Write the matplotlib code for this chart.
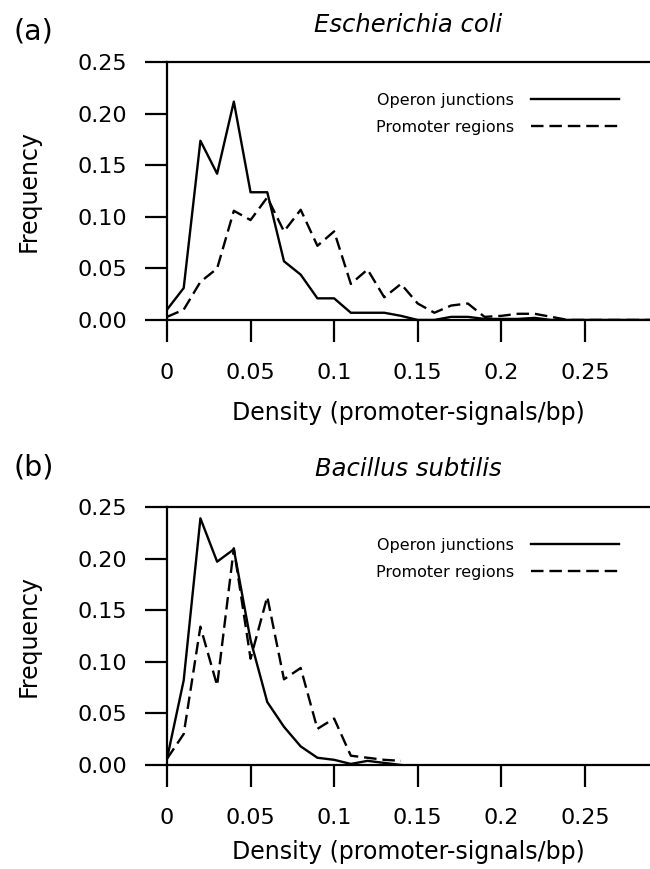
#!/usr/bin/env python3
# Promoter-signal density at operon junctions vs promoter regions
# (a) E. coli, (b) B. subtilis

import matplotlib
matplotlib.use("Agg")
import matplotlib.pyplot as plt

plt.rcParams["font.family"] = ["DejaVu Sans"]

# ============================
# Dados
# ============================
ecoli_density = [0.00, 0.01, 0.02, 0.03, 0.04, 0.05, 0.06, 0.07, 0.08, 0.09,
                 0.10, 0.11, 0.12, 0.13, 0.14, 0.15, 0.16, 0.17, 0.18, 0.19,
                 0.20, 0.21, 0.22, 0.23, 0.24, 0.25, 0.26, 0.27, 0.28, 0.29]
ecoli_operon = [0.010, 0.031, 0.174, 0.142, 0.212, 0.124, 0.124, 0.057, 0.044, 0.021,
                0.021, 0.007, 0.007, 0.007, 0.004, 0.000, 0.000, 0.003, 0.003, 0.001,
                0.001, 0.001, 0.002, 0.000, 0.000, 0.000, 0.000, 0.000, 0.000, 0.000]
ecoli_promoter = [0.003, 0.010, 0.037, 0.050, 0.106, 0.097, 0.119, 0.086, 0.107, 0.072,
                  0.086, 0.035, 0.049, 0.022, 0.035, 0.016, 0.007, 0.014, 0.016, 0.003,
                  0.004, 0.006, 0.006, 0.003, 0.000, 0.000, 0.000, 0.000, 0.000, 0.000]

bsub_density = [0.00, 0.01, 0.02, 0.03, 0.04, 0.05, 0.06, 0.07, 0.08, 0.09,
                0.10, 0.11, 0.12, 0.13, 0.14]
bsub_operon = [0.006, 0.082, 0.239, 0.197, 0.209, 0.121, 0.061, 0.037, 0.018, 0.007,
               0.005, 0.001, 0.004, 0.002, 0.000]
bsub_promoter = [0.006, 0.030, 0.134, 0.077, 0.210, 0.103, 0.163, 0.083, 0.094, 0.035,
                 0.045, 0.009, 0.007, 0.005, 0.004]

x_ticks = [0, 0.05, 0.1, 0.15, 0.2, 0.25]
x_ticklabels = ["0", "0.05", "0.1", "0.15", "0.2", "0.25"]
y_ticks = [0.0, 0.05, 0.10, 0.15, 0.20, 0.25]
y_ticklabels = ["0.00", "0.05", "0.10", "0.15", "0.20", "0.25"]

labels = ["Operon junctions", "Promoter regions"]

LW = 1.7
DASH = (5.3, 2.5)


def draw_panel(ax, x, operon, promoter, title, xlabelpad):
    ax.plot(x, operon, color="black", lw=LW, label=labels[0], zorder=3)
    ax.plot(x, promoter, color="black", lw=LW, ls=(0, DASH), label=labels[1], zorder=3)

    ax.set_xlim(0, 0.289)
    ax.set_ylim(0, 0.25)
    ax.spines["right"].set_visible(False)
    for s in ("left", "bottom", "top"):
        ax.spines[s].set_linewidth(1.6)

    ax.set_xticks(x_ticks)
    ax.set_xticklabels(x_ticklabels)
    ax.set_yticks(y_ticks)
    ax.set_yticklabels(y_ticklabels)
    ax.tick_params(direction="out", length=15.8, width=1.6, labelsize=16)
    ax.tick_params(axis="x", pad=15)
    ax.tick_params(axis="y", pad=13)

    ax.set_xlabel("Density (promoter-signals/bp)", fontsize=17, labelpad=xlabelpad)
    ax.set_ylabel("Frequency", fontsize=17, labelpad=26)
    ax.set_title(title, fontsize=17.5, style="italic", pad=22)

    ax.legend(loc="center right", bbox_to_anchor=(0.936, 0.80), frameon=False,
              markerfirst=False, fontsize=11.5, handlelength=5.5,
              handletextpad=1.1, labelspacing=0.75, borderpad=0, borderaxespad=0)


fig = plt.figure(figsize=(6.5, 8.69), dpi=100)
ax_a = fig.add_axes([0.2569, 0.6318, 0.7431, 0.2963])
ax_b = fig.add_axes([0.2569, 0.1197, 0.7431, 0.2969])

draw_panel(ax_a, ecoli_density, ecoli_operon, ecoli_promoter, "Escherichia coli", 13)
draw_panel(ax_b, bsub_density, bsub_operon, bsub_promoter, "Bacillus subtilis", 9)

fig.text(0.02, 0.964, "(a)", fontsize=20.5, va="center", ha="left")
fig.text(0.02, 0.4626, "(b)", fontsize=20.5, va="center", ha="left")

fig.savefig("out.png", dpi=100)
plt.close(fig)
